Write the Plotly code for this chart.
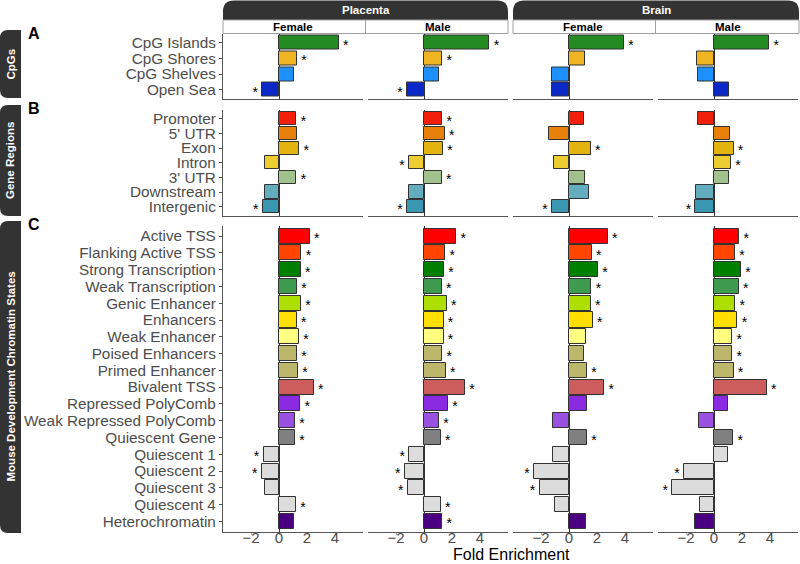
import plotly.graph_objects as go

W, H = 800, 564

# ---------------- data ----------------
tissues = ["Placenta", "Brain"]
sexes = ["Female", "Male"]
row_letters = ["A", "B", "C"]
row_titles = ["CpGs", "Gene Regions", "Mouse Development Chromatin States"]
x_ticks = [-2, 0, 2, 4]
x_title = "Fold Enrichment"

cpg_labels = ["CpG Islands", "CpG Shores", "CpG Shelves", "Open Sea"]
cpg_colors = ["#238B22", "#EEB422", "#1E90FF", "#0A28C8"]
cpg_placenta_female = [4.26, 1.29, 1.10, -1.19]
cpg_placenta_male = [4.67, 1.31, 1.10, -1.21]
cpg_brain_female = [3.93, 1.17, -1.21, -1.21]
cpg_brain_male = [3.95, -1.19, -1.14, 1.07]
cpg_sig_placenta_female = [1, 1, 0, 1]
cpg_sig_placenta_male = [1, 1, 0, 1]
cpg_sig_brain_female = [1, 0, 0, 0]
cpg_sig_brain_male = [1, 0, 0, 0]

gene_labels = ["Promoter", "5' UTR", "Exon", "Intron", "3' UTR", "Downstream", "Intergenic"]
gene_colors = ["#F0200A", "#E8800C", "#E3B30F", "#EDCD30", "#A2C28D", "#63ADBE", "#3A97B2"]
gene_placenta_female = [1.24, 1.26, 1.45, -1.02, 1.24, -1.02, -1.17]
gene_placenta_male = [1.31, 1.48, 1.36, -1.07, 1.26, -1.10, -1.21]
gene_brain_female = [1.10, -1.43, 1.55, -1.07, 1.17, 1.43, -1.21]
gene_brain_male = [-1.12, 1.12, 1.40, 1.21, 1.07, -1.26, -1.33]
gene_sig_placenta_female = [1, 0, 1, 0, 1, 0, 1]
gene_sig_placenta_male = [1, 1, 1, 1, 1, 0, 1]
gene_sig_brain_female = [0, 0, 1, 0, 0, 0, 1]
gene_sig_brain_male = [0, 0, 1, 1, 0, 0, 1]

chrom_labels = ["Active TSS", "Flanking Active TSS", "Strong Transcription", "Weak Transcription",
                "Genic Enhancer", "Enhancers", "Weak Enhancer", "Poised Enhancers",
                "Primed Enhancer", "Bivalent TSS", "Repressed PolyComb", "Weak Repressed PolyComb",
                "Quiescent Gene", "Quiescent 1", "Quiescent 2", "Quiescent 3", "Quiescent 4",
                "Heterochromatin"]
chrom_colors = ["#FF0000", "#FF4500", "#008000", "#3E9B50", "#ADDF00", "#FFDF00", "#FFFF80",
                "#BDB76B", "#BDB76B", "#CD5C5C", "#8A2BE2", "#9A50E0", "#808080",
                "#DCDCDC", "#DCDCDC", "#DCDCDC", "#DCDCDC", "#4B0082"]
chrom_placenta_female = [2.19, 1.60, 1.55, 1.29, 1.57, 1.26, 1.43, 1.29, 1.36, 2.48, 1.52, 1.14,
                         1.14, -1.10, -1.24, -1.00, 1.21, 1.10]
chrom_placenta_male = [2.31, 1.52, 1.43, 1.26, 1.62, 1.40, 1.40, 1.31, 1.55, 2.93, 1.71, 1.07,
                       1.19, -1.05, -1.38, -1.17, 1.19, 1.31]
chrom_brain_female = [2.76, 1.62, 2.07, 1.60, 1.55, 1.69, 1.24, 1.10, 1.29, 2.52, 1.26, -1.17,
                      1.29, -1.12, -2.50, -2.10, -1.02, 1.24]
chrom_brain_male = [1.81, 1.50, 1.93, 1.76, 1.52, 1.67, 1.31, 1.31, 1.40, 3.76, 1.00, -1.10,
                    1.38, 1.00, -2.14, -2.98, -1.02, -1.33]
chrom_sig_placenta_female = [1, 1, 1, 1, 1, 1, 1, 1, 1, 1, 1, 1, 1, 1, 1, 0, 1, 0]
chrom_sig_placenta_male = [1, 1, 1, 1, 1, 1, 1, 1, 1, 1, 1, 1, 1, 1, 1, 1, 1, 1]
chrom_sig_brain_female = [1, 1, 1, 1, 1, 1, 0, 0, 1, 1, 0, 0, 1, 0, 1, 1, 0, 0]
chrom_sig_brain_male = [1, 1, 1, 1, 1, 1, 1, 1, 1, 1, 0, 0, 1, 0, 1, 1, 0, 0]

rows = [
    (cpg_labels, cpg_colors,
     [cpg_placenta_female, cpg_placenta_male, cpg_brain_female, cpg_brain_male],
     [cpg_sig_placenta_female, cpg_sig_placenta_male, cpg_sig_brain_female, cpg_sig_brain_male]),
    (gene_labels, gene_colors,
     [gene_placenta_female, gene_placenta_male, gene_brain_female, gene_brain_male],
     [gene_sig_placenta_female, gene_sig_placenta_male, gene_sig_brain_female, gene_sig_brain_male]),
    (chrom_labels, chrom_colors,
     [chrom_placenta_female, chrom_placenta_male, chrom_brain_female, chrom_brain_male],
     [chrom_sig_placenta_female, chrom_sig_placenta_male, chrom_sig_brain_female, chrom_sig_brain_male]),
]

# ---------------- geometry (pixels) ----------------
col_px = [(223, 363), (368, 508), (513, 653), (658, 798)]
row_px = [(33.5, 99), (110, 215.5), (226, 531.5)]
strip_px = [(30, 98), (105, 216), (221, 533)]
FONT = "Liberation Sans, Arial, Helvetica, sans-serif"
AXIS_COL = "#555555"
TXT_COL = "#4D4D4D"


def fx(x):
    return x / W


def fy(y):
    return 1 - y / H


fig = go.Figure()
layout = dict(width=W, height=H, margin=dict(l=0, r=0, t=0, b=0),
              paper_bgcolor="white", plot_bgcolor="white", showlegend=False,
              font=dict(family=FONT, color=TXT_COL), bargap=0)

for r, (labels, colors, vals_list, sig_list) in enumerate(rows):
    n = len(labels)
    y0, y1 = row_px[r]
    spacing = (y1 - y0) / (n + 0.2)
    for c in range(4):
        k = r * 4 + c + 1
        xs = "" if k == 1 else str(k)
        vals = vals_list[c]
        sigs = sig_list[c]
        pos = list(range(n))
        fig.add_trace(go.Bar(
            x=vals, y=pos, orientation="h", width=0.9,
            marker=dict(color=colors, line=dict(color="#333333", width=1)),
            xaxis="x" + xs, yaxis="y" + xs, hoverinfo="x+y"))
        sx = [v + (0.5 if v >= 0 else -0.5) for v, s in zip(vals, sigs) if s]
        sy = [p + 3.5 / spacing for p, s in zip(pos, sigs) if s]
        fig.add_trace(go.Scatter(
            x=sx, y=sy, mode="text", text=["*"] * len(sx),
            textposition="middle center",
            textfont=dict(size=14, color="black", family=FONT),
            xaxis="x" + xs, yaxis="y" + xs, hoverinfo="skip", cliponaxis=False))
        xa = dict(domain=[fx(col_px[c][0]), fx(col_px[c][1])], range=[-4, 6],
                  anchor="y" + xs, showgrid=False, showline=True, linecolor=AXIS_COL,
                  linewidth=1.2, zeroline=True, zerolinecolor="#333333", zerolinewidth=1.2,
                  tickvals=x_ticks, fixedrange=True,
                  showticklabels=(r == 2), ticks=("outside" if r == 2 else ""),
                  ticklen=2, tickcolor="#BBBBBB", ticklabelstandoff=-10,
                  tickfont=dict(size=15, color=TXT_COL, family=FONT))
        ya = dict(domain=[fy(y1), fy(y0)], range=[n - 0.4, -0.6], anchor="x" + xs,
                  showgrid=False, zeroline=False, fixedrange=True)
        if c == 0:
            ya.update(showline=True, linecolor=AXIS_COL, linewidth=1.2,
                      tickvals=pos, ticktext=labels, ticks="outside", ticklen=3,
                      tickcolor=AXIS_COL, tickfont=dict(size=15.3, color=TXT_COL, family=FONT))
        else:
            ya.update(showline=False, showticklabels=False, ticks="")
        layout["xaxis" + xs] = xa
        layout["yaxis" + xs] = ya


def rpath(x0, y0, x1, y1, rad, corners):
    # corners: tl, tr, br, bl booleans; pixel coords -> paper path
    tl, tr, br, bl = corners

    def P(x, y):
        return f"{fx(x):.5f},{fy(y):.5f}"
    d = "M " + P(x0 + (rad if tl else 0), y0)
    d += " L " + P(x1 - (rad if tr else 0), y0)
    if tr:
        d += " Q " + P(x1, y0) + " " + P(x1, y0 + rad)
    d += " L " + P(x1, y1 - (rad if br else 0))
    if br:
        d += " Q " + P(x1, y1) + " " + P(x1 - rad, y1)
    d += " L " + P(x0 + (rad if bl else 0), y1)
    if bl:
        d += " Q " + P(x0, y1) + " " + P(x0, y1 - rad)
    d += " L " + P(x0, y0 + (rad if tl else 0))
    if tl:
        d += " Q " + P(x0, y0) + " " + P(x0 + rad, y0)
    return d + " Z"


shapes = []
annotations = []
STRIP = "#333333"

# top strips
group_px = [(223, 508), (513, 799)]
for g, (gx0, gx1) in enumerate(group_px):
    shapes.append(dict(type="path", xref="paper", yref="paper",
                       path=rpath(gx0, 0.5, gx1, 20, 11, (True, True, False, False)),
                       fillcolor=STRIP, line=dict(width=0), layer="above"))
    shapes.append(dict(type="rect", xref="paper", yref="paper",
                       x0=fx(gx0), x1=fx(gx1), y0=fy(33.5), y1=fy(20),
                       fillcolor="white", line=dict(color="#A0A0A0", width=1)))
    annotations.append(dict(text="<b>%s</b>" % tissues[g], xref="paper", yref="paper",
                            x=fx((gx0 + gx1) / 2), y=fy(10.5), showarrow=False,
                            font=dict(size=11.5, color="white", family=FONT),
                            xanchor="center", yanchor="middle"))
    mid = (col_px[2 * g][1] + col_px[2 * g + 1][0]) / 2
    shapes.append(dict(type="line", xref="paper", yref="paper", x0=fx(mid), x1=fx(mid),
                       y0=fy(20), y1=fy(33.5), line=dict(color="#A0A0A0", width=1)))
    for s in range(2):
        cx0, cx1 = col_px[2 * g + s]
        annotations.append(dict(text="<b>%s</b>" % sexes[s], xref="paper", yref="paper",
                                x=fx((cx0 + cx1) / 2), y=fy(27), showarrow=False,
                                font=dict(size=11.5, color="black", family=FONT),
                                xanchor="center", yanchor="middle"))

# left strips and letters
for r in range(3):
    sy0, sy1 = strip_px[r]
    shapes.append(dict(type="path", xref="paper", yref="paper",
                       path=rpath(0, sy0, 21, sy1, 8, (True, False, False, True)),
                       fillcolor=STRIP, line=dict(width=0)))
    annotations.append(dict(text="<b>%s</b>" % row_titles[r], xref="paper", yref="paper",
                            x=fx(10.5), y=fy((sy0 + sy1) / 2), showarrow=False, textangle=-90,
                            font=dict(size=11.5, color="white", family=FONT),
                            xanchor="center", yanchor="middle"))
    annotations.append(dict(text="<b>%s</b>" % row_letters[r], xref="paper", yref="paper",
                            x=fx(33.5), y=fy(sy0 + 3.5), showarrow=False,
                            font=dict(size=16, color="black", family=FONT),
                            xanchor="center", yanchor="middle"))

annotations.append(dict(text=x_title, xref="paper", yref="paper", x=fx(511), y=0,
                        showarrow=False, font=dict(size=16, color="black", family=FONT),
                        xanchor="center", yanchor="bottom", yshift=-1))

layout["shapes"] = shapes
layout["annotations"] = annotations
fig.update_layout(**layout)

fig.write_html("out.html", config={"displayModeBar": False},
               post_script="document.body.style.margin='0';")
